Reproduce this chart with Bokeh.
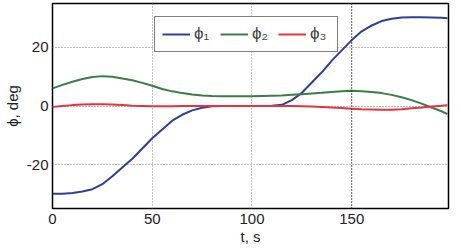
from bokeh.plotting import figure
from bokeh.models import Range1d, FixedTicker, Legend, LegendItem, Span, CustomJSTickFormatter
from bokeh.embed import file_html
from bokeh.resources import INLINE

t = [0, 5, 10, 15, 20, 25, 30, 35, 40, 45, 50, 55, 60, 65, 70, 75, 80, 85, 90, 95,
     100, 105, 110, 115, 120, 125, 130, 135, 140, 145, 150, 155, 160, 165, 170, 175,
     180, 185, 190, 195, 198]

phi1 = [-30, -30, -29.7, -29.2, -28.4, -26.7, -24, -21, -18, -14.5, -11, -8, -5, -3, -1.5, -0.6, -0.1, 0, 0, 0,
        0, 0, 0.1, 0.4, 2, 4.5, 8, 11.5, 15.5, 19, 22.5, 25.5, 27.5, 29, 29.8, 30.2,
        30.3, 30.3, 30.2, 30.1, 30]

phi2 = [6, 7.2, 8.3, 9.2, 9.9, 10.2, 10, 9.4, 8.8, 7.9, 6.9, 5.8, 5, 4.4, 3.9, 3.6, 3.4, 3.3, 3.3, 3.3,
        3.3, 3.4, 3.5, 3.6, 3.8, 4, 4.3, 4.5, 4.8, 5, 5.2, 5, 4.8, 4.4, 3.8, 3,
        2, 0.8, -0.5, -1.8, -2.8]

phi3 = [-0.3, 0, 0.3, 0.5, 0.6, 0.6, 0.5, 0.3, 0.1, 0, -0.1, -0.1, -0.1, 0, 0, 0, 0, 0, 0, 0,
        0, 0, 0, 0, 0, -0.1, -0.2, -0.3, -0.5, -0.7, -0.9, -1.1, -1.2, -1.3, -1.3, -1.1,
        -0.8, -0.5, -0.2, 0.1, 0.3]

x_ticks = [0, 50, 100, 150]
y_ticks = [-20, 0, 20]
labels = ["ϕ₁", "ϕ₂", "ϕ₃"]
colors = ["#2f3f95", "#3b7d45", "#e8323c"]

p = figure(width=453, height=249, output_backend="svg", toolbar_location=None,
           x_range=Range1d(0, 198.5), y_range=Range1d(-35, 35),
           min_border_left=43, min_border_right=5, min_border_top=3, min_border_bottom=41)
p.background_fill_color = "white"
p.border_fill_color = "white"
p.outline_line_color = "black"
p.outline_line_width = 1.5
p.outline_line_alpha = 1

fmt = CustomJSTickFormatter(code="return tick.toString();")
for ax in (p.xaxis[0], p.yaxis[0]):
    ax.axis_line_color = None
    ax.major_tick_line_color = None
    ax.minor_tick_line_color = None
    ax.major_tick_out = 0
    ax.major_tick_in = 0
    ax.minor_tick_out = 0
    ax.minor_tick_in = 0
    ax.formatter = fmt
    ax.major_label_text_font = "Liberation Sans"
    ax.major_label_text_font_size = "15px"
    ax.major_label_text_color = "#222222"
    ax.axis_label_text_font = "Liberation Sans"
    ax.axis_label_text_font_size = "15px"
    ax.axis_label_text_font_style = "normal"
    ax.axis_label_text_color = "#222222"

p.xaxis.ticker = FixedTicker(ticks=x_ticks)
p.yaxis.ticker = FixedTicker(ticks=y_ticks)
p.xaxis.axis_label = "t, s"
p.yaxis.axis_label = "ϕ, deg"
p.xaxis.major_label_standoff = 5
p.xaxis.axis_label_standoff = 1
p.yaxis.major_label_standoff = 4
p.yaxis.axis_label_standoff = 3

p.grid.grid_line_color = "#888888"
p.grid.grid_line_dash = "1 2"
p.grid.grid_line_width = 1

p.add_layout(Span(location=150, dimension="height", line_color="black",
                  line_dash="1 2", line_width=1))

items = []
for ys, lab, c in zip([phi1, phi2, phi3], labels, colors):
    r = p.line(t, ys, line_color=c, line_width=2)
    items.append(LegendItem(label=lab, renderers=[r]))

legend = Legend(items=items, orientation="horizontal", location=(102, 156),
                label_text_font="Liberation Sans", label_text_font_size="17px",
                glyph_width=28, label_standoff=4, spacing=6, padding=7, margin=0,
                border_line_color="black", border_line_width=1,
                background_fill_alpha=1)
p.add_layout(legend, "center")

open("out.html", "w").write(file_html(p, INLINE))
